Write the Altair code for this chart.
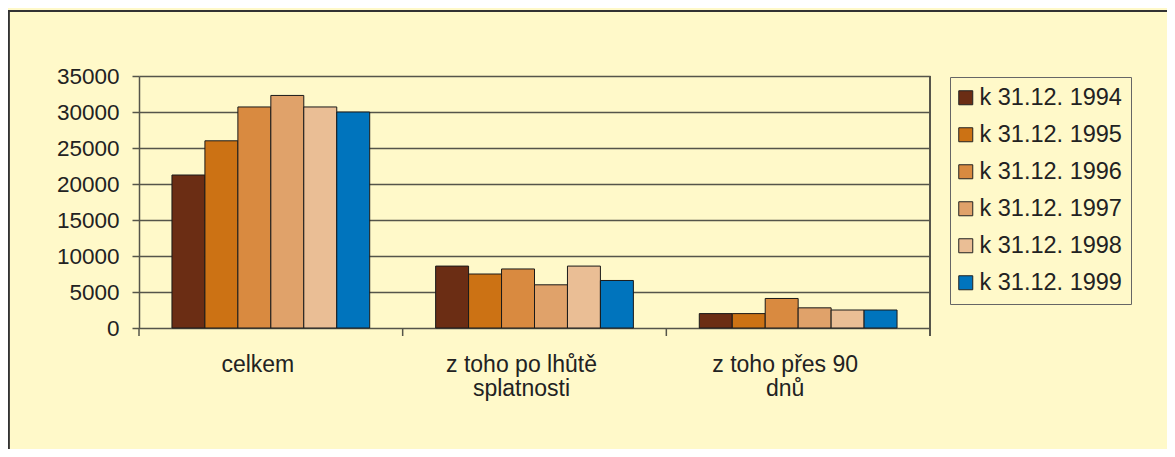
import altair as alt
import pandas as pd

categories = ["celkem", "z toho po lhůtě\nsplatnosti", "z toho přes 90\ndnů"]
series = ["k 31.12. 1994", "k 31.12. 1995", "k 31.12. 1996",
          "k 31.12. 1997", "k 31.12. 1998", "k 31.12. 1999"]
v1994 = [21250, 8600, 2000]
v1995 = [26000, 7500, 2000]
v1996 = [30700, 8200, 4100]
v1997 = [32300, 6000, 2800]
v1998 = [30700, 8600, 2500]
v1999 = [30000, 6600, 2500]
colors = ["#6B2D14", "#CC7214", "#D98A40", "#E0A26A", "#EABE95", "#0074BD"]
y_ticks = [0, 5000, 10000, 15000, 20000, 25000, 30000, 35000]

BG = "#FFF9C9"
LINE = "#55554a"
SANS = "Liberation Sans"

rows = []
for s, vals in zip(series, [v1994, v1995, v1996, v1997, v1998, v1999]):
    for c, v in zip(categories, vals):
        rows.append({"cat": c, "series": s, "value": v})
df = pd.DataFrame(rows)
cat_df = pd.DataFrame({"cat": categories})

x_axis = alt.Axis(title=None, labelAngle=0, domain=False, ticks=False, grid=False,
                  labelExpr="split(datum.label, '\\n')", labelFont=SANS,
                  labelFontSize=23, labelColor="#222222", labelPadding=25,
                  labelLineHeight=24.5, labelOffset=-13)
x_enc = alt.X("cat:N", sort=categories, axis=x_axis,
              scale=alt.Scale(paddingInner=0, paddingOuter=0))

border = alt.Chart(cat_df).mark_rect(fill=BG, fillOpacity=0, stroke="#333333",
                                      strokeWidth=2, clip=False).encode(
    x=alt.value(-130.5), x2=alt.value(1300), y=alt.value(-65), y2=alt.value(600)
)

bars = alt.Chart(df).mark_bar(stroke="#1a1a1a", strokeWidth=1).encode(
    x=x_enc,
    xOffset=alt.XOffset("series:N", sort=series,
                        scale=alt.Scale(paddingInner=0, paddingOuter=1)),
    y=alt.Y("value:Q", scale=alt.Scale(domain=[0, 35000], nice=False),
            axis=alt.Axis(title=None, values=y_ticks, format="d", grid=True,
                          gridColor=LINE, gridWidth=1.5, gridOpacity=1,
                          domainColor=LINE, domainWidth=1.5, tickColor=LINE,
                          tickWidth=1.5, tickSize=7, labelFont=SANS,
                          labelFontSize=22.5, labelColor="#222222", labelPadding=13)),
    color=alt.Color("series:N", sort=series,
                    scale=alt.Scale(domain=series, range=colors),
                    legend=alt.Legend(title=None)),
)

ticks = alt.Chart(cat_df).mark_rule(color=LINE, strokeWidth=1.5).encode(
    x=alt.X("cat:N", sort=categories, bandPosition=0, axis=x_axis),
    y=alt.value(252), y2=alt.value(260),
)

right_edge = alt.Chart(cat_df).mark_rule(color=LINE, strokeWidth=1.5).encode(
    x=alt.value(791), y=alt.value(0), y2=alt.value(260),
)

chart = alt.layer(border, bars, ticks, right_edge).properties(
    width=791, height=252, background=BG,
    padding={"left": 131, "top": 68, "right": 237, "bottom": 121},
    autosize=alt.AutoSizeParams(type="none"),
).configure_view(stroke=None).configure_legend(
    orient="none", legendX=811, legendY=1, padding=9,
    strokeColor="#666666", fillColor=BG, rowPadding=12,
    labelFont=SANS, labelFontSize=23.5, labelColor="#222222", labelOffset=2,
    symbolOffset=-5,
    symbolType="square", symbolSize=196, symbolStrokeColor="#222222",
    symbolStrokeWidth=1, symbolOpacity=1,
)

chart.save("out.html", embed_options={"renderer": "svg", "actions": False})
